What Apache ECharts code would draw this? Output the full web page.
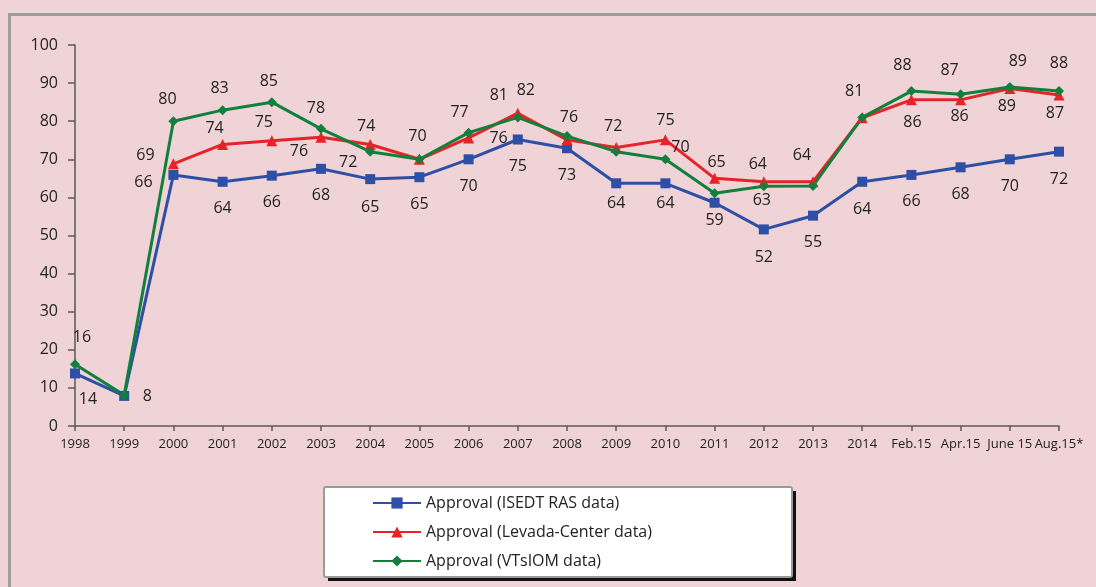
<!DOCTYPE html>
<html>
<head>
<meta charset="utf-8">
<script src="https://cdn.jsdelivr.net/npm/echarts@6/dist/echarts.min.js"></script>
<style>
html,body{margin:0;padding:0;background:#f0d3d6;}
#c{width:1096px;height:587px;}
</style>
</head>
<body>
<div id="c"></div>
<script>
var categories = ['1998','1999','2000','2001','2002','2003','2004','2005','2006','2007','2008','2009','2010','2011','2012','2013','2014','Feb.15','Apr.15','June 15','Aug.15*'];
var seriesNames = ['Approval (ISEDT RAS data)','Approval (Levada-Center data)','Approval (VTsIOM data)'];
var isedtValues  = [13.8, 7.9, 65.9, 64.1, 65.7, 67.5, 64.8, 65.3, 70.0, 75.2, 72.9, 63.7, 63.7, 58.6, 51.6, 55.2, 64.1, 65.9, 67.9, 70.0, 72.0];
var levadaValues = [null, null, 68.8, 73.9, 74.9, 75.8, 73.9, 70.0, 75.6, 82.1, 75.1, 73.1, 75.1, 65.0, 64.1, 64.1, 80.9, 85.6, 85.6, 88.6, 86.9];
var vtsiomValues = [16.2, 8.1, 80.0, 82.9, 85.0, 78.0, 72.0, 70.0, 77.0, 81.0, 76.1, 72.0, 70.0, 61.1, 62.9, 63.0, 81.0, 87.9, 87.1, 89.0, 87.9];
var yTicks = [0,10,20,30,40,50,60,70,80,90,100];

// label placement (offsets from the point; null = no label shown)
var isedtLabelOffsets = [[13,26],[23,1],[-30,8],[0,27],[0,27],[0,27],[0,28],[0,27],[0,27],[0,27],[0,27],[0,20],[0,20],[0,18],[0,28],[0,27],[0,28],[0,27],[0,27],[0,27],[0,28]];
var levadaLabelOffsets = [null,null,[-28,-8],[-8,-16],[-8,-18],[-22,14],[-4,-18],[-2,-23],[30,0],[8,-23],null,null,[0,-19],[2,-16],[-6,-17],[-11,-26],null,[1,23],[-1,17],[-3,18],[-4,19]];
var vtsiomLabelOffsets = [[7,-27],null,[-6,-22],[-3,-22],[-3,-21],[-5,-20],[-22,11],null,[-9,-20],[-19,-22],[2,-19],[-3,-25],[15,-12],null,[-2,14],null,[-8,-26],[-9,-26],[-11,-24],[8,-25],[0,-28]];

var FONT = 'Open Sans';
var TXT = '#222';

function buildData(vals, offs){
  return vals.map(function(v,i){
    var o = offs[i];
    return {value: v, label: {show: v != null && o != null, offset: o || [0,0]}};
  });
}

function mkSeries(name, vals, offs, color, symbol, size){
  return {
    name: name, type: 'line', data: buildData(vals, offs),
    symbol: symbol, symbolSize: size,
    lineStyle: {color: color, width: 3},
    itemStyle: {color: color},
    label: {show: true, position: 'inside', fontSize: 16, fontFamily: FONT, color: TXT,
      formatter: function(p){ return Math.round(p.value); }},
    emphasis: {disabled: true},
    animation: false
  };
}

var chart = echarts.init(document.getElementById('c'));
chart.setOption({
  backgroundColor: '#f0d3d6',
  animation: false,
  graphic: [
    {type: 'rect', z: 0, shape: {x: 9.5, y: 14.5, width: 1200, height: 700}, style: {fill: 'transparent', stroke: '#9e9e9e', lineWidth: 3}},
    {type: 'rect', z: 0, shape: {x: 328, y: 491, width: 468, height: 90}, style: {fill: '#111111'}},
    {type: 'rect', z: 1, shape: {x: 324, y: 487, width: 468, height: 90, r: 2},
      style: {fill: '#ffffff', stroke: '#9a9a9a', lineWidth: 2}}
  ],
  grid: {left: 75, right: 37, top: 45, bottom: 161, containLabel: false},
  legend: {
    z: 10, orient: 'vertical', left: 367, top: 490,
    itemWidth: 48, itemHeight: 14, itemGap: 13,
    textStyle: {fontSize: 16, fontFamily: FONT, color: TXT},
    data: seriesNames
  },
  xAxis: {
    type: 'category', data: categories, boundaryGap: false,
    axisLine: {lineStyle: {color: '#595959', width: 1.5}},
    axisTick: {show: true, alignWithLabel: true, length: 5, lineStyle: {color: '#595959', width: 1.5}},
    axisLabel: {fontSize: 13, fontFamily: FONT, color: TXT, margin: 12, interval: 0},
    splitLine: {show: false}
  },
  yAxis: {
    type: 'value', min: yTicks[0], max: yTicks[yTicks.length-1], interval: 10,
    axisLine: {show: true, lineStyle: {color: '#595959', width: 1.5}},
    axisTick: {show: true, length: 7, lineStyle: {color: '#595959', width: 1.5}},
    axisLabel: {fontSize: 16, fontFamily: FONT, color: TXT, margin: 17},
    splitLine: {show: false}
  },
  series: [
    mkSeries(seriesNames[0], isedtValues, isedtLabelOffsets, '#2e4fa6', 'rect', 10),
    mkSeries(seriesNames[1], levadaValues, levadaLabelOffsets, '#e52329', 'triangle', 11),
    mkSeries(seriesNames[2], vtsiomValues, vtsiomLabelOffsets, '#12803d', 'diamond', 10)
  ]
});
</script>
</body>
</html>
